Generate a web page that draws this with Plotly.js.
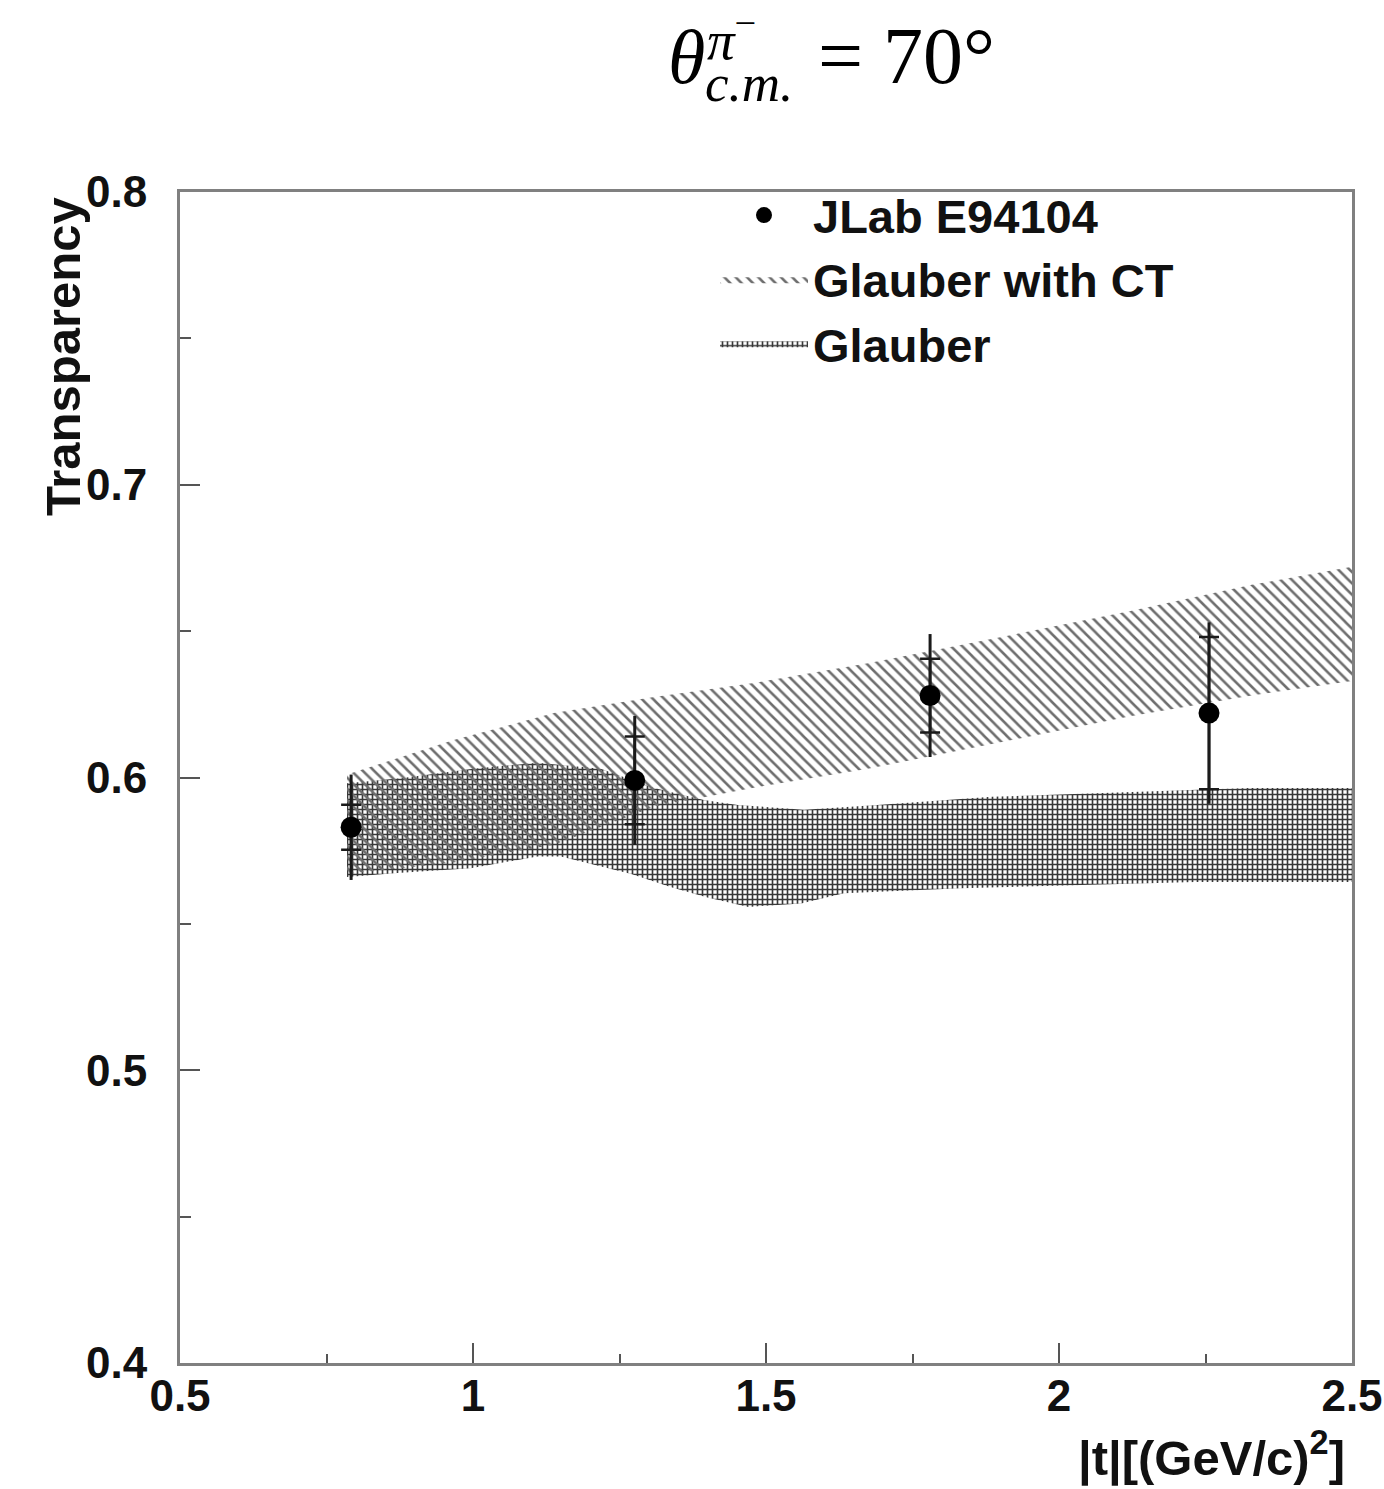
<!DOCTYPE html>
<html>
<head>
<meta charset="utf-8">
<script src="https://cdn.plot.ly/plotly-3.0.1.min.js"></script>
<style>html,body{margin:0;padding:0;background:#fff;}#chart{width:1384px;height:1489px;}</style>
</head>
<body>
<div id="chart"></div>
<script>
// ---- data ----
const tData   = [0.792, 1.276, 1.780, 2.256];
const transp  = [0.583, 0.599, 0.628, 0.622];
const statErr = [0.0077, 0.015, 0.0126, 0.026];
const totErr  = [0.018, 0.022, 0.021, 0.031];

// Glauber with CT band (upper and lower edges)
const ctX     = [0.785, 0.967, 1.138, 1.309, 1.479, 1.674, 1.902, 2.124, 2.329, 2.5];
const ctUpper = [0.601, 0.6128, 0.622, 0.6275, 0.6323, 0.639, 0.648, 0.657, 0.6658, 0.672];
const ctLower = [0.567, 0.571, 0.577, 0.590, 0.5965, 0.603, 0.612, 0.621, 0.628, 0.633];

// Glauber band
const gUpX = [0.785, 0.88, 1.0, 1.11, 1.218, 1.309, 1.394, 1.452, 1.565, 1.69, 1.885, 2.238, 2.324, 2.5];
const gUp  = [0.598, 0.5998, 0.603, 0.605, 0.603, 0.5964, 0.5923, 0.5906, 0.589, 0.5906, 0.5934, 0.5957, 0.5964, 0.5964];
const gLoX = [0.785, 0.871, 0.996, 1.11, 1.15, 1.27, 1.337, 1.40, 1.47, 1.56, 1.633, 1.833, 2.232, 2.5];
const gLo  = [0.566, 0.5674, 0.569, 0.573, 0.573, 0.567, 0.5626, 0.559, 0.5558, 0.557, 0.5605, 0.5622, 0.5643, 0.5643];

const seriesNames = ["JLab E94104", "Glauber with CT", "Glauber"];
const xTitle = "|t|[(GeV/c)<sup>2</sup>]";
const yTitle = "Transparency";

function band(xu, yu, xl, yl) {
  return {
    x: xu.concat(xl.slice().reverse()),
    y: yu.concat(yl.slice().reverse())
  };
}

const ctPoly = band(ctX, ctUpper, ctX, ctLower);
const gPoly  = band(gUpX, gUp, gLoX, gLo);

const FONT = "Liberation Sans, Arial, Helvetica, sans-serif";
const SERIF = "Liberation Serif, Times New Roman, serif";

const traces = [
  {
    type: "scatter", mode: "lines", name: seriesNames[2],
    x: gPoly.x, y: gPoly.y, fill: "toself",
    fillcolor: "rgba(0,0,0,0)",
    line: {width: 0, color: "rgba(0,0,0,0)"},
    fillpattern: {shape: "+", fgcolor: "#383838", bgcolor: "rgba(0,0,0,0)", size: 5, solidity: 0.55},
    legendrank: 3, hoverinfo: "skip"
  },
  {
    type: "scatter", mode: "lines", name: seriesNames[1],
    x: ctPoly.x, y: ctPoly.y, fill: "toself",
    fillcolor: "rgba(0,0,0,0)",
    line: {width: 0, color: "rgba(0,0,0,0)"},
    fillpattern: {shape: "\\", fgcolor: "#6e6e6e", bgcolor: "rgba(0,0,0,0)", size: 8, solidity: 0.32},
    legendrank: 2, hoverinfo: "skip"
  },
  {
    type: "scatter", mode: "markers", showlegend: false,
    x: tData, y: transp,
    marker: {size: 1, color: "rgba(0,0,0,0)"},
    error_y: {type: "data", array: totErr, visible: true, width: 0, thickness: 3, color: "#1a1a1a"}
  },
  {
    type: "scatter", mode: "markers", name: seriesNames[0],
    x: tData, y: transp,
    marker: {size: 21, color: "#000", symbol: "circle"},
    error_y: {type: "data", array: statErr, visible: true, width: 10, thickness: 2.5, color: "#1a1a1a"},
    legendrank: 1
  }
];

function px2x(px) { return (px - 180) / 1172; }
function py2y(py) { return (1363 - py) / 1171; }

const layout = {
  width: 1384, height: 1489,
  margin: {l: 180, r: 32, t: 192, b: 126},
  paper_bgcolor: "#fff", plot_bgcolor: "#fff",
  showlegend: true,
  legend: {
    x: px2x(715), y: py2y(178), xanchor: "left", yanchor: "top",
    bgcolor: "rgba(0,0,0,0)", borderwidth: 0,
    font: {family: FONT, size: 47, color: "#111", weight: "bold"},
    itemwidth: 88, tracegroupgap: 0
  },
  xaxis: {
    range: [0.5, 2.5], tick0: 0.5, dtick: 0.5,
    ticks: "inside", ticklen: 20, tickwidth: 2, tickcolor: "#555",
    showline: true, linecolor: "#808080", linewidth: 3, mirror: true,
    showgrid: false, zeroline: false,
    tickfont: {family: FONT, size: 44, color: "#111", weight: "bold"},
    ticklabelstandoff: -8,
    minor: {dtick: 0.25, ticks: "inside", ticklen: 9, tickwidth: 2, tickcolor: "#555", showgrid: false}
  },
  yaxis: {
    range: [0.4, 0.8], tick0: 0.4, dtick: 0.1,
    ticks: "inside", ticklen: 20, tickwidth: 2, tickcolor: "#555",
    showline: true, linecolor: "#808080", linewidth: 3, mirror: true,
    showgrid: false, zeroline: false,
    tickfont: {family: FONT, size: 44, color: "#111", weight: "bold"},
    ticklabelstandoff: 21,
    minor: {dtick: 0.05, ticks: "inside", ticklen: 11, tickwidth: 2, tickcolor: "#555", showgrid: false}
  },
  annotations: [
    {
      xref: "paper", yref: "paper", x: px2x(666), y: py2y(57),
      xanchor: "left", yanchor: "middle", showarrow: false,
      text: "<i>θ</i>",
      font: {family: SERIF, size: 76, color: "#000"}
    },
    {
      xref: "paper", yref: "paper", x: px2x(705), y: py2y(37),
      xanchor: "left", yanchor: "middle", showarrow: false,
      text: "<i>π</i><sup>−</sup>",
      font: {family: SERIF, size: 55, color: "#000"}
    },
    {
      xref: "paper", yref: "paper", x: px2x(703), y: py2y(83),
      xanchor: "left", yanchor: "middle", showarrow: false,
      text: "<i>c.m.</i>",
      font: {family: SERIF, size: 53, color: "#000"}
    },
    {
      xref: "paper", yref: "paper", x: px2x(816), y: py2y(56),
      xanchor: "left", yanchor: "middle", showarrow: false,
      text: "= 70°",
      font: {family: SERIF, size: 80, color: "#000"}
    },
    {
      xref: "paper", yref: "paper", x: px2x(63), y: py2y(357),
      xanchor: "center", yanchor: "middle", showarrow: false, textangle: -90,
      text: yTitle,
      font: {family: FONT, size: 49, color: "#111", weight: "bold"}
    },
    {
      xref: "paper", yref: "paper", x: px2x(1347), y: py2y(1454),
      xanchor: "right", yanchor: "middle", showarrow: false,
      text: xTitle,
      font: {family: FONT, size: 49, color: "#111", weight: "bold"}
    }
  ]
};

Plotly.newPlot("chart", traces, layout, {staticPlot: true, displayModeBar: false});
</script>
</body>
</html>
